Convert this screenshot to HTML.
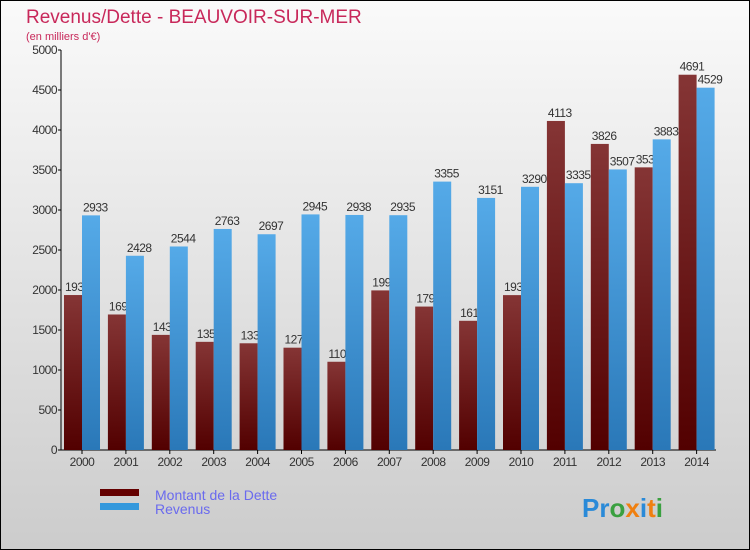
<!DOCTYPE html>
<html><head><meta charset="utf-8"><style>
body{margin:0;width:750px;height:550px;overflow:hidden}
svg{display:block}
text{font-family:"Liberation Sans",sans-serif}
</style></head><body>
<svg width="750" height="550" xmlns="http://www.w3.org/2000/svg">
<defs>
<linearGradient id="bg" x1="0" y1="0" x2="0" y2="1"><stop offset="0" stop-color="#fafafa"/><stop offset="1" stop-color="#cccccc"/></linearGradient>
<linearGradient id="dr" x1="0" y1="0" x2="0" y2="1"><stop offset="0" stop-color="#853535"/><stop offset="1" stop-color="#520000"/></linearGradient>
<linearGradient id="bl" x1="0" y1="0" x2="0" y2="1"><stop offset="0" stop-color="#55aae8"/><stop offset="1" stop-color="#2a78b8"/></linearGradient>
</defs>
<rect x="0.5" y="0.5" width="749" height="549" fill="url(#bg)" stroke="#000"/>
<text x="26" y="23" font-size="19" fill="#c8285a">Revenus/Dette - BEAUVOIR-SUR-MER</text>
<text x="26" y="40" font-size="11" fill="#c8285a">(en milliers d'€)</text>
<g id="chart"></g>
<rect x="100" y="489" width="39" height="7" fill="#640000"/>
<rect x="100" y="503" width="39" height="7" fill="#3498dc"/>
<text x="155" y="500" font-size="14" fill="#6a6aee">Montant de la Dette</text>
<text x="155" y="514" font-size="14" fill="#6a6aee">Revenus</text>
<text x="582" y="517" font-size="26" font-family="DejaVu Sans" font-weight="bold"><tspan fill="#2a8ad8">Pr</tspan><tspan fill="#3aa040">o</tspan><tspan fill="#f08010">x</tspan><tspan fill="#2a8ad8">i</tspan><tspan fill="#f08010">t</tspan><tspan fill="#3aa040">i</tspan></text>
</svg>
<script>
var d=[1937,1694,1439,1352,1334,1279,1103,1995,1793,1615,1936,4113,3826,3533,4691];
var r=[2933,2428,2544,2763,2697,2945,2938,2935,3355,3151,3290,3335,3507,3883,4529];
var s='';
function Y(v){return 450-v*0.08;}
s+='<line x1="61" y1="50" x2="61" y2="450" stroke="#000"/><line x1="61" y1="450" x2="716" y2="450" stroke="#000"/>';
for(var k=0;k<=10;k++){var y=450-k*40;s+='<line x1="58" y1="'+y+'" x2="61" y2="'+y+'" stroke="#000"/><text x="57" y="'+(y+4)+'" font-size="12" fill="#333" text-anchor="end" letter-spacing="-0.5">'+(k*500)+'</text>';}
for(var i=0;i<15;i++){var x=64+i*43.9;
s+='<rect x="'+x+'" y="'+Y(d[i])+'" width="18" height="'+(d[i]*0.08)+'" fill="url(#dr)"/>';
s+='<text x="'+(x+1)+'" y="'+(Y(d[i])-4)+'" font-size="12" fill="#333" letter-spacing="-0.5">'+d[i]+'</text>';
s+='<rect x="'+(x+18)+'" y="'+Y(r[i])+'" width="18" height="'+(r[i]*0.08)+'" fill="url(#bl)"/>';
s+='<text x="'+(x+19)+'" y="'+(Y(r[i])-4)+'" font-size="12" fill="#333" letter-spacing="-0.5">'+r[i]+'</text>';
s+='<line x1="'+(x+18)+'" y1="450" x2="'+(x+18)+'" y2="454" stroke="#000"/><text x="'+(x+18)+'" y="466" font-size="12" fill="#333" text-anchor="middle" letter-spacing="-0.5">'+(2000+i)+'</text>';}
document.getElementById('chart').innerHTML=s;
</script>
</body></html>
